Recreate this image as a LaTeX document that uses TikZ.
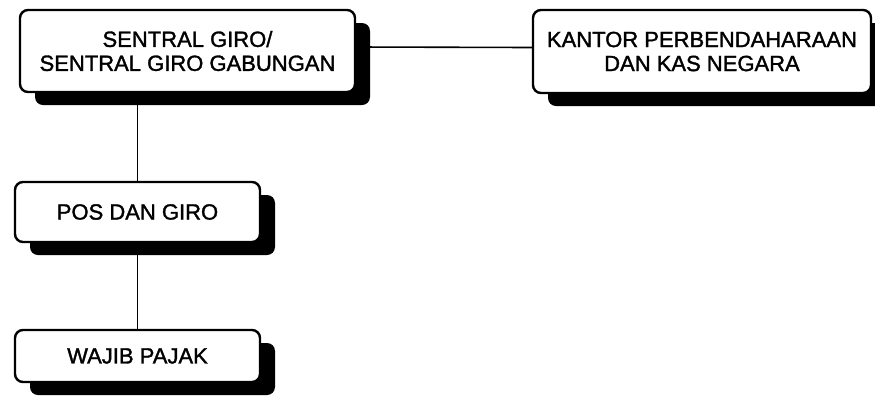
\documentclass[tikz,border=0pt]{standalone}
\usepackage{fontspec}
\setmainfont{Liberation Sans}
\newfontfamily\boxfont[FakeBold=1.5]{Liberation Sans}
\usetikzlibrary{shadows, positioning}

\begin{document}
\begin{tikzpicture}[
        x=0.5pt, y=-0.5pt,
        box/.style={rectangle, draw=black, line width=1.2pt, rounded corners=4pt, align=center, fill=white, inner sep=0pt,
            font=\boxfont\fontsize{11}{12}\selectfont,
            drop shadow={shadow xshift=7.5pt, shadow yshift=-6.5pt, fill=black, opacity=1}},
        link/.style={line width=0.8pt, black}
    ]
        \useasboundingbox (0,0) rectangle (875,403);

        % Nodes
        \node[box, minimum width=167.5pt, minimum height=41pt] (sentral) at (187.5,51) {SENTRAL GIRO/\\SENTRAL GIRO GABUNGAN};
        \node[box, minimum width=169pt, minimum height=41.5pt] (kantor) at (702,51.5) {KANTOR PERBENDAHARAAN\\DAN KAS NEGARA};
        \node[box, minimum width=122.5pt, minimum height=30pt] (pos) at (137.5,212) {POS DAN GIRO};
        \node[box, minimum width=122.5pt, minimum height=26pt] (wajib) at (137.5,356) {WAJIB PAJAK};

        % Lines
        \draw[link] ([yshift=2pt]sentral.east) -- ([yshift=2pt]kantor.west);
        \draw[link] (pos.north) -- (pos.north |- sentral.south);
        \draw[link] (pos.south) -- (wajib.north);
    \end{tikzpicture}
\end{document}
